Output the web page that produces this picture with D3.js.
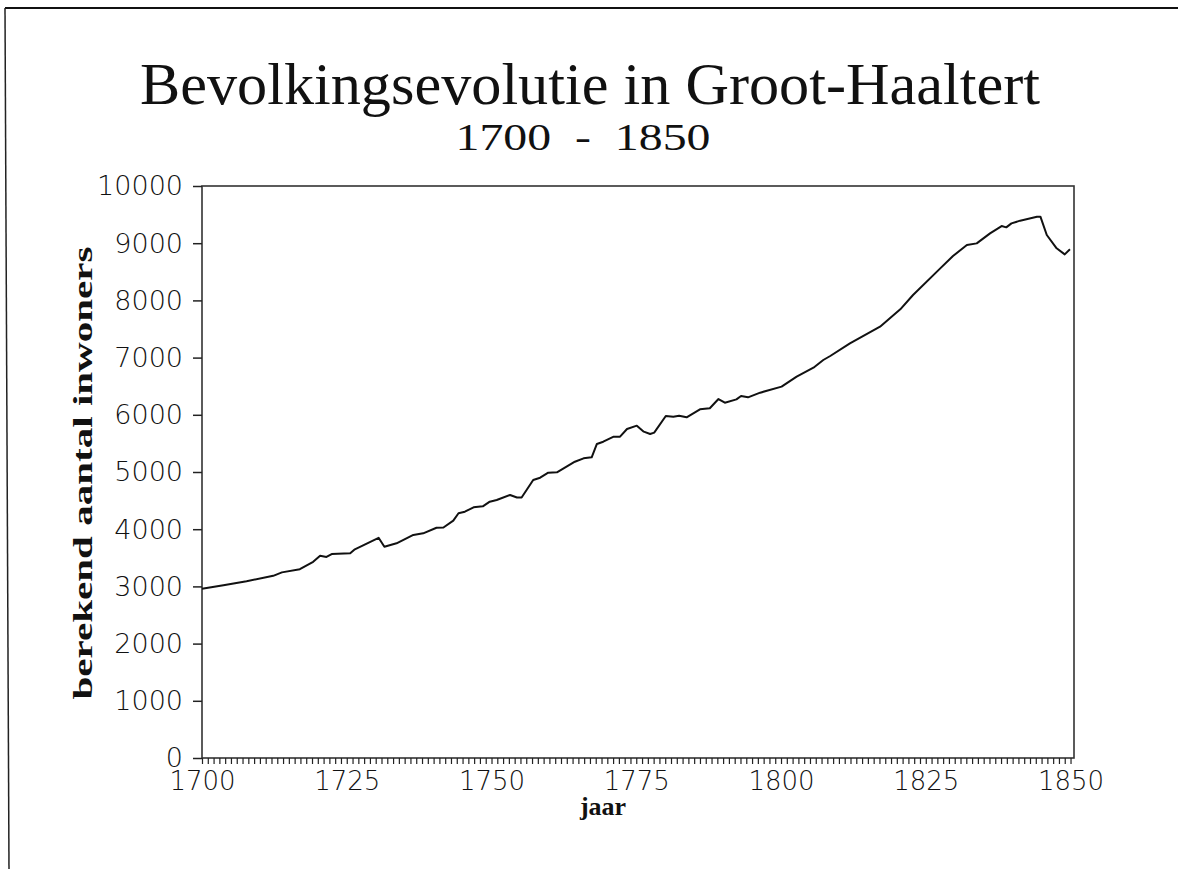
<!DOCTYPE html>
<html>
<head>
<meta charset="utf-8">
<script src="https://cdn.jsdelivr.net/npm/d3@7"></script>
<style>
  html, body { margin: 0; padding: 0; background: #fff; }
  svg { display: block; }
</style>
</head>
<body>
<svg id="chart" width="1178" height="869"></svg>
<script>
// ---- data ----
const years = [1700.0,1703.7,1707.7,1712.3,1713.8,1716.9,1719.2,1720.4,1721.5,1722.4,1725.6,1726.4,1730.5,1731.5,1733.6,1736.5,1738.2,1740.5,1741.7,1743.4,1744.3,1745.4,1746.9,1748.5,1749.7,1750.9,1753.2,1754.4,1755.2,1757.2,1758.4,1759.8,1761.3,1764.4,1765.9,1767.3,1768.2,1769.3,1771.1,1772.2,1773.4,1775.1,1776.3,1777.4,1778.1,1780.1,1781.4,1782.4,1783.7,1786.0,1787.7,1789.2,1790.3,1792.3,1793.1,1794.3,1796.4,1800.1,1802.7,1805.6,1807.3,1808.5,1811.9,1817.1,1820.6,1822.8,1827.5,1829.7,1832.1,1833.8,1836.1,1838.1,1838.9,1839.8,1841.3,1844.2,1844.8,1845.9,1847.6,1849.0,1849.9];
const inwoners = [2960,3020,3090,3185,3245,3300,3430,3535,3515,3565,3578,3648,3850,3694,3753,3899,3928,4026,4030,4149,4278,4306,4383,4400,4481,4510,4598,4554,4554,4860,4900,4988,4994,5180,5239,5257,5490,5530,5618,5618,5752,5810,5705,5664,5688,5979,5967,5985,5956,6096,6114,6276,6212,6270,6329,6305,6387,6492,6667,6824,6958,7028,7250,7541,7844,8094,8560,8776,8968,8997,9172,9300,9277,9347,9394,9464,9464,9143,8911,8805,8893];
const xTickLabels = [1700, 1725, 1750, 1775, 1800, 1825, 1850];
const yTickLabels = [0,1000,2000,3000,4000,5000,6000,7000,8000,9000,10000];
const titleText = "Bevolkingsevolutie in Groot-Haaltert";
const subtitleText = "1700  -  1850";
const xLabel = "jaar";
const yLabel = "berekend aantal inwoners";

// ---- layout ----
const svg = d3.select("#chart");
const mLeft = 202, mRight = 1074, mTop = 186, mBottom = 758;

const x = d3.scaleLinear().domain([1700, 1850.6]).range([mLeft, mRight]);
const y = d3.scaleLinear().domain([0, 10000]).range([mBottom, mTop]);

// page border remnants
svg.append("line").attr("x1", 5).attr("y1", 8).attr("x2", 1178).attr("y2", 8)
  .attr("stroke", "#111").attr("stroke-width", 2);
svg.append("line").attr("x1", 5).attr("y1", 8).attr("x2", 9).attr("y2", 869)
  .attr("stroke", "#222").attr("stroke-width", 1.5);

// title
svg.append("text").text(titleText)
  .attr("x", 590).attr("y", 104).attr("text-anchor", "middle")
  .attr("font-family", "Liberation Serif, serif").attr("font-size", 60)
  .attr("textLength", 900).attr("lengthAdjust", "spacingAndGlyphs")
  .attr("fill", "#111");
svg.append("text").text(subtitleText)
  .attr("x", 583).attr("y", 150).attr("text-anchor", "middle")
  .style("white-space", "pre")
  .attr("font-family", "Liberation Serif, serif").attr("font-size", 37)
  .attr("textLength", 255).attr("lengthAdjust", "spacingAndGlyphs")
  .attr("fill", "#111");

// frame
svg.append("rect").attr("x", mLeft).attr("y", mTop)
  .attr("width", mRight - mLeft).attr("height", mBottom - mTop)
  .attr("fill", "none").attr("stroke", "#333").attr("stroke-width", 1.6);

// y axis
const yAxis = d3.axisLeft(y).tickValues(yTickLabels).tickSize(9).tickPadding(10)
  .tickFormat(d3.format("d"));
const gy = svg.append("g").attr("transform", `translate(${mLeft},0)`).call(yAxis);
gy.select(".domain").remove();
gy.selectAll(".tick line").attr("stroke", "#222").attr("stroke-width", 1.5);
gy.selectAll(".tick text").attr("font-family", "DejaVu Sans, sans-serif")
  .attr("font-size", 27).attr("font-weight", 200).attr("fill", "#111")
  .attr("dy", "0.33em");

// x axis minor ticks (every year)
const xMinor = d3.axisBottom(x).tickValues(d3.range(1700, 1851, 1)).tickSize(6).tickFormat("");
const gxm = svg.append("g").attr("transform", `translate(0,${mBottom})`).call(xMinor);
gxm.select(".domain").remove();
gxm.selectAll(".tick line").attr("stroke", "#222").attr("stroke-width", 1.2);

// x axis labels
const xAxis = d3.axisBottom(x).tickValues(xTickLabels).tickSize(0).tickPadding(13)
  .tickFormat(d3.format("d"));
const gx = svg.append("g").attr("transform", `translate(0,${mBottom})`).call(xAxis);
gx.select(".domain").remove();
gx.selectAll(".tick text").attr("font-family", "DejaVu Sans, sans-serif")
  .attr("font-size", 26).attr("font-weight", 200).attr("fill", "#111")
  .attr("dy", "0.72em");

// axis titles
svg.append("text").text(xLabel)
  .attr("x", 603).attr("y", 815).attr("text-anchor", "middle")
  .attr("font-family", "Liberation Serif, serif").attr("font-weight", "bold")
  .attr("font-size", 26).attr("fill", "#111");
svg.append("text").text(yLabel)
  .attr("transform", "translate(92,473) rotate(-90)")
  .attr("text-anchor", "middle")
  .attr("font-family", "Liberation Serif, serif").attr("font-weight", "bold")
  .attr("font-size", 27).attr("textLength", 453).attr("lengthAdjust", "spacingAndGlyphs")
  .attr("fill", "#111");

// line
const pts = years.map((yr, i) => [yr, inwoners[i]]);
svg.append("path").datum(pts)
  .attr("d", d3.line().x(d => x(d[0])).y(d => y(d[1])))
  .attr("fill", "none").attr("stroke", "#111").attr("stroke-width", 2)
  .attr("stroke-linejoin", "round");
</script>
</body>
</html>
